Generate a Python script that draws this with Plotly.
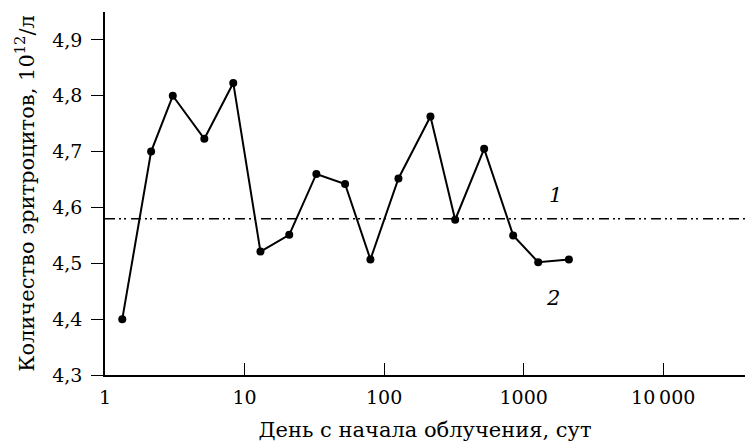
import math
import plotly.graph_objects as go

# Erythrocyte count by day since irradiation
days = [1.33, 2.14, 3.06, 5.15, 8.3, 13.0, 20.9, 32.7, 52.5, 79.8,
        126.7, 214.8, 323, 521, 841, 1271, 2109]
counts = [4.40, 4.70, 4.80, 4.723, 4.823, 4.521, 4.551, 4.66, 4.642, 4.507,
          4.652, 4.763, 4.578, 4.705, 4.55, 4.502, 4.507]

norm_level = 4.58

x_tickvals = [1, 10, 100, 1000, 10000]
x_ticktext = ["1", "10", "100", "1000", "10\u2009000"]
y_tickvals = [4.3, 4.4, 4.5, 4.6, 4.7, 4.8, 4.9]
y_ticktext = ["4,3", "4,4", "4,5", "4,6", "4,7", "4,8", "4,9"]

curve_labels = ["1", "2"]
curve_label_x = [1683, 1620]
curve_label_y = [4.623, 4.438]

FONT = "DejaVu Serif"

fig = go.Figure()

fig.add_trace(go.Scatter(
    x=days, y=counts, mode="lines+markers",
    line=dict(color="black", width=2),
    marker=dict(color="black", size=8),
    showlegend=False, hoverinfo="skip",
))

fig.add_shape(
    type="line", xref="paper", x0=0, x1=1, yref="y", y0=norm_level, y1=norm_level,
    line=dict(color="black", width=1.5, dash="10px,4px,2px,3px,2px,5px"),
)

# annotations on a log axis take log10 positions
for txt, lx, ly in zip(curve_labels, curve_label_x, curve_label_y):
    fig.add_annotation(
        x=math.log10(lx), y=ly, xref="x", yref="y", text=f"<i>{txt}</i>",
        showarrow=False, font=dict(family=FONT, size=21, color="black"),
    )

fig.update_layout(
    width=754, height=444,
    margin=dict(l=105, r=9, t=12, b=69),
    paper_bgcolor="white", plot_bgcolor="white",
    font=dict(family=FONT, size=20, color="black"),
)

fig.update_xaxes(
    type="log", range=[0, 4.586], automargin=False,
    tickvals=x_tickvals, ticktext=x_ticktext,
    ticks="inside", ticklen=12, tickwidth=1.3, tickcolor="black",
    showline=True, linecolor="black", linewidth=1.5,
    showgrid=False, zeroline=False,
    tickfont=dict(family=FONT, size=19), ticklabelstandoff=4,
    title=dict(text="День с начала облучения, сут", font=dict(family=FONT, size=21), standoff=16),
)

fig.update_yaxes(
    range=[4.3, 4.95], automargin=False,
    tickvals=y_tickvals, ticktext=y_ticktext,
    ticks="outside", ticklen=12, tickwidth=1.3, tickcolor="black",
    showline=True, linecolor="black", linewidth=1.5,
    showgrid=False, zeroline=False,
    tickfont=dict(family=FONT, size=19), ticklabelstandoff=5,
    title=dict(text="Количество эритроцитов, 10<sup>12</sup>/л", font=dict(family=FONT, size=21), standoff=12),
)

fig.write_html("out.html")
